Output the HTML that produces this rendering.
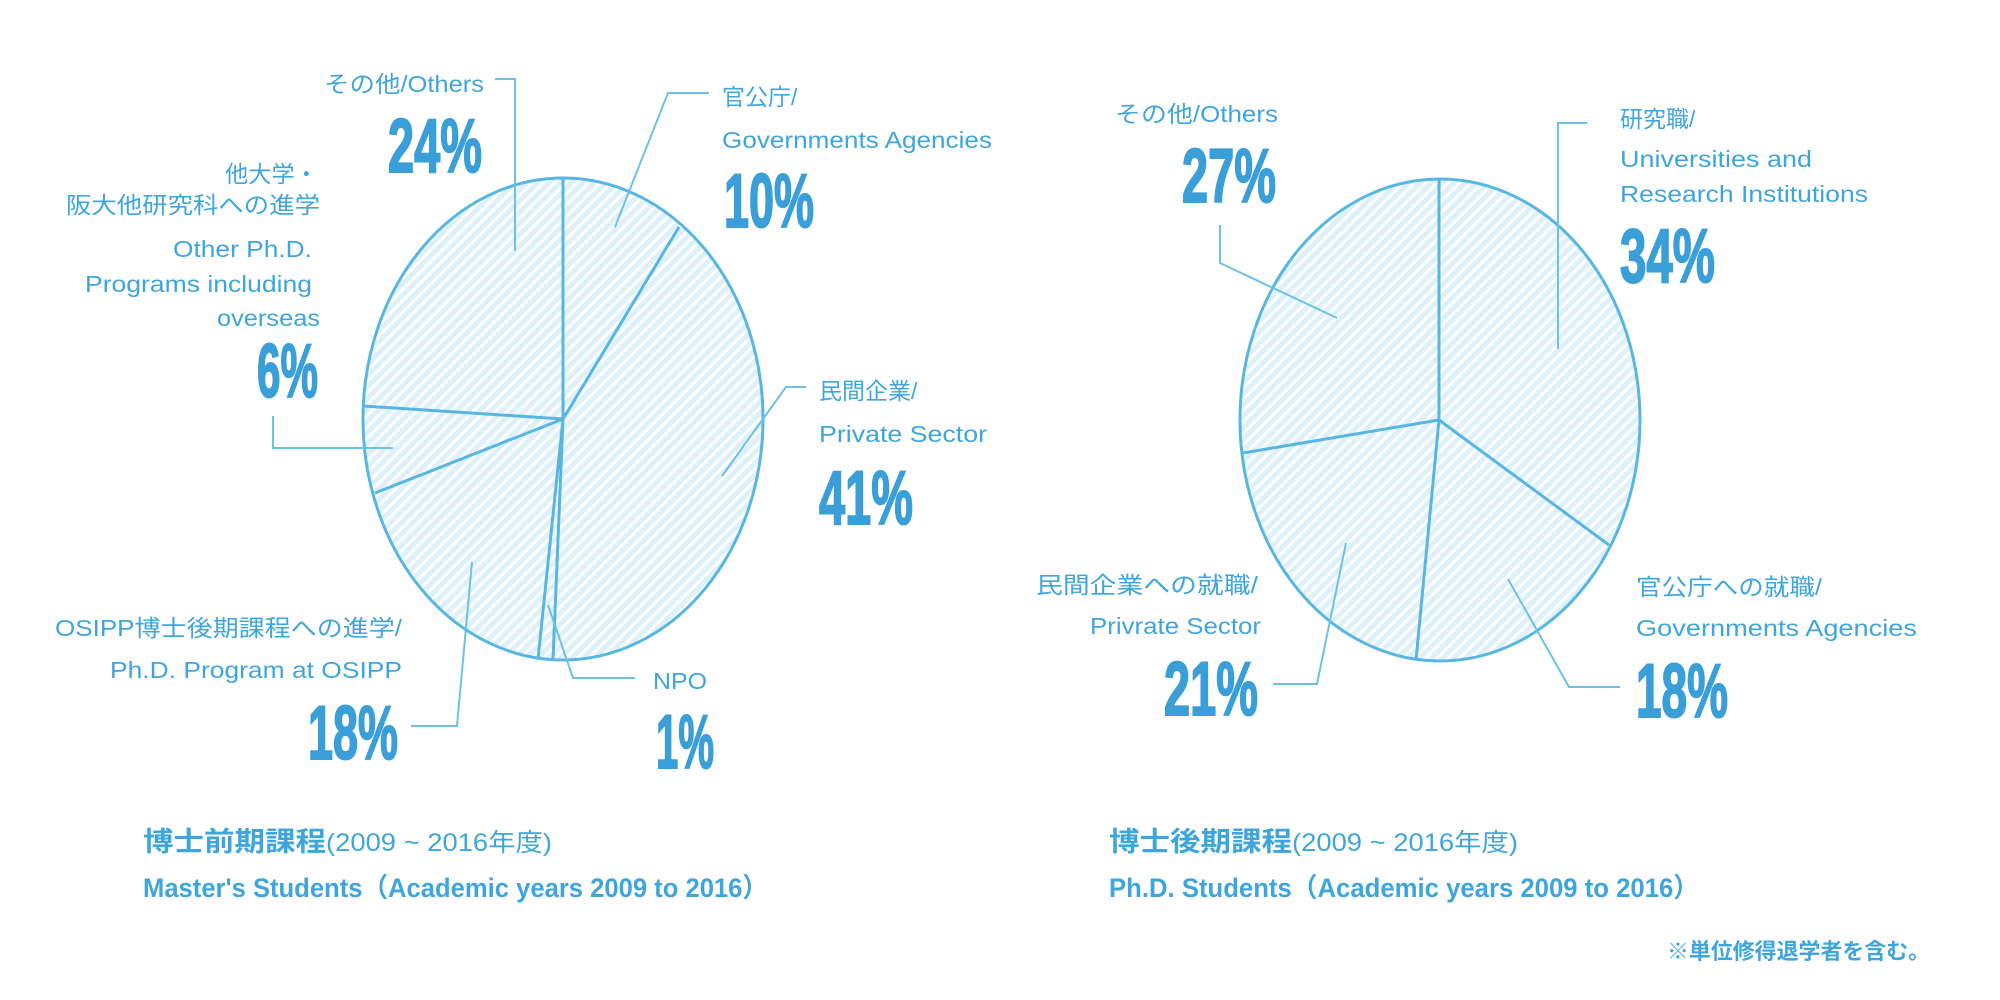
<!DOCTYPE html>
<html><head><meta charset="utf-8"><style>
html,body{margin:0;padding:0;background:#fff;}
svg{display:block;}
text{font-family:"Liberation Sans","Noto Sans CJK JP",sans-serif;fill:#3ea6dc;}
.s{font-size:23px;}
.b{font-size:76px;font-weight:bold;fill:#3a9fd9;stroke:#3a9fd9;stroke-width:2;}
.t{font-size:27px;font-weight:bold;}
.tn{font-size:25px;}
</style></head><body>
<svg width="2000" height="1000" viewBox="0 0 2000 1000" xmlns="http://www.w3.org/2000/svg">
<defs>
<pattern id="h" patternUnits="userSpaceOnUse" width="8" height="8" patternTransform="rotate(45)">
<rect width="8" height="8" fill="#def0f9"/>
<rect width="3" height="8" fill="#ffffff"/>
</pattern>
</defs>
<g stroke="#58b7e2" stroke-width="3" fill="none">
<ellipse cx="563" cy="419" rx="200" ry="241" fill="url(#h)"/>
<path d="M563 419L563 178M563 419L679 227M563 419L553 660M563 419L538 659M563 419L363 406M563 419L375 493"/>
<ellipse cx="1440" cy="420" rx="200" ry="241" fill="url(#h)"/>
<path d="M1439 420L1439 179M1439 420L1609 545M1439 420L1416 660M1439 420L1243 453"/>
</g>
<g stroke="#6cc2e6" stroke-width="2" fill="none">
<path d="M495 79H515V251"/>
<path d="M709 93H668L615 227"/>
<path d="M806 387H786L722 476"/>
<path d="M635 678H573L548 605"/>
<path d="M411 726H457L472 562"/>
<path d="M273 416V448H393"/>
<path d="M1587 123H1558V349"/>
<path d="M1220 225V263L1337 318"/>
<path d="M1508 579L1569 687H1620"/>
<path d="M1346 543L1317 684H1273"/>
</g>
<text class="s" x="324" y="92" textLength="160" lengthAdjust="spacingAndGlyphs">その他/Others</text>
<text class="b" x="388" y="172" textLength="94" lengthAdjust="spacingAndGlyphs">24%</text>
<text class="s" x="722" y="105">官公庁/</text>
<text class="s" x="722" y="148" textLength="270" lengthAdjust="spacingAndGlyphs">Governments Agencies</text>
<text class="b" x="724" y="227" textLength="90" lengthAdjust="spacingAndGlyphs">10%</text>
<text class="s" x="819" y="399">民間企業/</text>
<text class="s" x="819" y="442" textLength="168" lengthAdjust="spacingAndGlyphs">Private Sector</text>
<text class="b" x="819" y="524" textLength="94" lengthAdjust="spacingAndGlyphs">41%</text>
<text class="s" x="653" y="689" textLength="54" lengthAdjust="spacingAndGlyphs">NPO</text>
<text class="b" x="656" y="768" textLength="58" lengthAdjust="spacingAndGlyphs">1%</text>
<text class="s" x="225" y="182" textLength="93" lengthAdjust="spacingAndGlyphs">他大学・</text>
<text class="s" x="66" y="213" textLength="254" lengthAdjust="spacingAndGlyphs">阪大他研究科への進学</text>
<text class="s" x="173" y="257" textLength="139" lengthAdjust="spacingAndGlyphs">Other Ph.D.</text>
<text class="s" x="85" y="292" textLength="227" lengthAdjust="spacingAndGlyphs">Programs including</text>
<text class="s" x="217" y="326" textLength="103" lengthAdjust="spacingAndGlyphs">overseas</text>
<text class="b" x="257" y="397" textLength="61" lengthAdjust="spacingAndGlyphs">6%</text>
<text class="s" x="55" y="636" textLength="347" lengthAdjust="spacingAndGlyphs">OSIPP博士後期課程への進学/</text>
<text class="s" x="110" y="678" textLength="292" lengthAdjust="spacingAndGlyphs">Ph.D. Program at OSIPP</text>
<text class="b" x="308" y="759" textLength="90" lengthAdjust="spacingAndGlyphs">18%</text>
<text class="s" x="1115" y="122" textLength="163" lengthAdjust="spacingAndGlyphs">その他/Others</text>
<text class="b" x="1182" y="202" textLength="94" lengthAdjust="spacingAndGlyphs">27%</text>
<text class="s" x="1620" y="127">研究職/</text>
<text class="s" x="1620" y="167" textLength="192" lengthAdjust="spacingAndGlyphs">Universities and</text>
<text class="s" x="1620" y="202" textLength="248" lengthAdjust="spacingAndGlyphs">Research Institutions</text>
<text class="b" x="1620" y="282" textLength="95" lengthAdjust="spacingAndGlyphs">34%</text>
<text class="s" x="1636" y="595" textLength="186" lengthAdjust="spacingAndGlyphs">官公庁への就職/</text>
<text class="s" x="1636" y="636" textLength="281" lengthAdjust="spacingAndGlyphs">Governments Agencies</text>
<text class="b" x="1636" y="717" textLength="92" lengthAdjust="spacingAndGlyphs">18%</text>
<text class="s" x="1036" y="593" textLength="222" lengthAdjust="spacingAndGlyphs">民間企業への就職/</text>
<text class="s" x="1090" y="634" textLength="171" lengthAdjust="spacingAndGlyphs">Privrate Sector</text>
<text class="b" x="1164" y="715" textLength="94" lengthAdjust="spacingAndGlyphs">21%</text>
<text x="143" y="851"><tspan class="t" textLength="183" lengthAdjust="spacingAndGlyphs">博士前期課程</tspan><tspan class="tn" textLength="226" lengthAdjust="spacingAndGlyphs">(2009 ~ 2016年度)</tspan></text>
<text class="t" x="143" y="897" textLength="625" lengthAdjust="spacingAndGlyphs">Master's Students（Academic years 2009 to 2016）</text>
<text x="1109" y="851"><tspan class="t" textLength="183" lengthAdjust="spacingAndGlyphs">博士後期課程</tspan><tspan class="tn" textLength="226" lengthAdjust="spacingAndGlyphs">(2009 ~ 2016年度)</tspan></text>
<text class="t" x="1109" y="897" textLength="590" lengthAdjust="spacingAndGlyphs">Ph.D. Students（Academic years 2009 to 2016）</text>
<text x="1667" y="959" style="font-size:22px;font-weight:bold" textLength="263" lengthAdjust="spacingAndGlyphs">※単位修得退学者を含む。</text>
</svg>
</body></html>
